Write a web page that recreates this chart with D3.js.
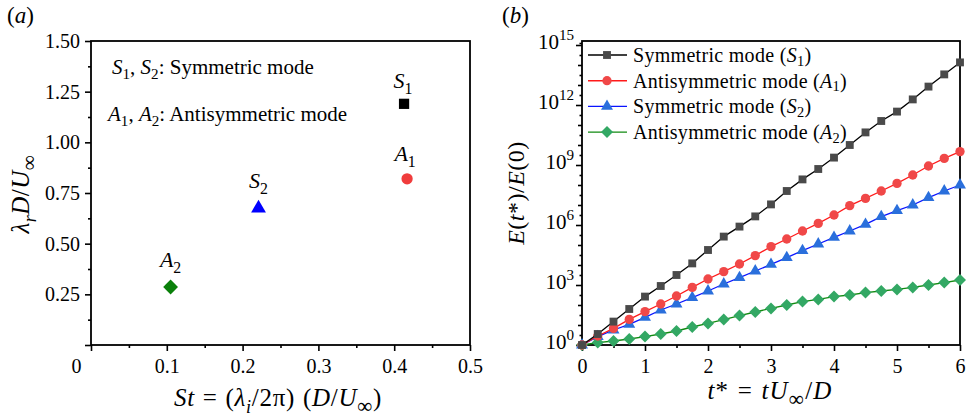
<!DOCTYPE html>
<html>
<head>
<meta charset="utf-8">
<script src="https://cdn.jsdelivr.net/npm/d3@7"></script>
<style>
body { margin: 0; background: #fff; }
svg, svg text, svg tspan { font-family: "Liberation Serif", "DejaVu Serif", serif; }
svg text { fill: #000; }
</style>
</head>
<body>
<svg id="chart" width="969" height="419" font-family="Liberation Serif, serif"></svg>
<script>
// ---- panel (a): growth rate vs Strouhal number
const modeNames = ['S1', 'A1', 'S2', 'A2'];
const stValues = [0.413, 0.417, 0.221, 0.105];
const lambdaR = [1.19, 0.82, 0.68, 0.286];
const aXTicks = [0, 0.1, 0.2, 0.3, 0.4, 0.5];
const aYTicks = [0, 0.25, 0.5, 0.75, 1.0, 1.25, 1.5];

// ---- panel (b): energy growth, values are log10 of E(t*)/E(0)
const tStar = [0, 0.25, 0.5, 0.75, 1, 1.25, 1.5, 1.75, 2, 2.25, 2.5, 2.75, 3,
               3.25, 3.5, 3.75, 4, 4.25, 4.5, 4.75, 5, 5.25, 5.5, 5.75, 6];
const s1Log = [0, 0.55, 1.17, 1.8, 2.42, 2.95, 3.5, 4.08, 4.75, 5.42, 5.92, 6.43, 7.03,
               7.7, 8.28, 8.8, 9.37, 10.0, 10.63, 11.2, 11.67, 12.28, 12.92, 13.53, 14.13];
const a1Log = [0, 0.45, 0.83, 1.28, 1.67, 2.05, 2.45, 2.88, 3.3, 3.67, 4.05, 4.47, 4.92,
               5.3, 5.7, 6.08, 6.5, 6.97, 7.33, 7.7, 8.08, 8.5, 8.95, 9.33, 9.67];
const s2Log = [0, 0.42, 0.75, 1.03, 1.38, 1.75, 2.05, 2.37, 2.7, 3.05, 3.37, 3.7, 4.03,
               4.37, 4.72, 5.05, 5.38, 5.7, 6.03, 6.42, 6.72, 7.0, 7.37, 7.7, 8.0];
const a2Log = [0, 0.12, 0.2, 0.3, 0.42, 0.55, 0.7, 0.9, 1.08, 1.27, 1.47, 1.65, 1.83,
               2.0, 2.17, 2.28, 2.42, 2.5, 2.62, 2.7, 2.78, 2.88, 3.0, 3.12, 3.25];
const bXTicks = [0, 1, 2, 3, 4, 5, 6];
const bYExponents = [0, 3, 6, 9, 12, 15];

const FONT = '"Liberation Serif", "DejaVu Serif", serif';
const svg = d3.select('#chart');

// writes text made of [string, style] parts; style may hold 'i', 'sub', 'sup'
function rich(sel, parts, size, subShift) {
    sel.style('font-family', FONT);
    const subK = subShift === undefined ? 0.26 : subShift;
    let prev = 0;
    parts.forEach(function (p) {
        const st = (p[1] || '').split(' ');
        let shift = 0, fs = size;
        if (st.indexOf('sub') >= 0) { shift = size * subK; fs = size * 0.72; }
        if (st.indexOf('sup') >= 0) { shift = -size * 0.4; fs = size * 0.72; }
        if (st.indexOf('big') >= 0) fs = size * 0.85;
        const t = sel.append('tspan').text(p[0]).attr('font-size', fs + 'px');
        if (st.indexOf('i') >= 0) t.attr('font-style', 'italic');
        if (shift !== prev) t.attr('dy', shift - prev);
        prev = shift;
    });
    return sel;
}

function styleAxis(g) {
    g.attr('font-family', null);
    g.select('.domain').remove();
    g.selectAll('.tick line').attr('stroke', '#000').attr('stroke-width', 1.6);
    g.selectAll('.tick text').attr('font-size', '20px').attr('fill', '#000')
        .style('font-family', FONT);
}

// diamond drawn as a square turned by 45 degrees
const squareDiamond = {
    draw: function (ctx, size) {
        const r = Math.sqrt(size / 2);
        ctx.moveTo(0, -r); ctx.lineTo(r, 0); ctx.lineTo(0, r); ctx.lineTo(-r, 0); ctx.closePath();
    }
};

// ================= panel (a) =================
const xa = d3.scaleLinear().domain([0, 0.5]).range([91, 470]);
const ya = d3.scaleLinear().domain([0, 1.5]).range([345, 41]);

// minor ticks
svg.append('g').attr('transform', 'translate(0,345)')
    .call(d3.axisBottom(xa).tickValues([0.05, 0.15, 0.25, 0.35, 0.45]).tickSize(3).tickFormat(''))
    .call(styleAxis);
svg.append('g').attr('transform', 'translate(91,0)')
    .call(d3.axisLeft(ya).tickValues([0.125, 0.375, 0.625, 0.875, 1.125, 1.375]).tickSize(3).tickFormat(''))
    .call(styleAxis);

const axA = svg.append('g').attr('transform', 'translate(0,345)')
    .call(d3.axisBottom(xa).tickValues(aXTicks).tickSize(6).tickPadding(8)
        .tickFormat(function (d) { return d === 0 ? '0' : d3.format('.1f')(d); }))
    .call(styleAxis);
axA.selectAll('.tick text').filter(function (d) { return d === 0; }).attr('x', -15);

svg.append('g').attr('transform', 'translate(91,0)')
    .call(d3.axisLeft(ya).tickValues(aYTicks).tickSize(6).tickPadding(5)
        .tickFormat(function (d) { return d === 0 ? '' : d3.format('.2f')(d); }))
    .call(styleAxis);

svg.append('rect').attr('x', 91).attr('y', 41).attr('width', 379).attr('height', 304)
    .attr('fill', 'none').attr('stroke', '#000').attr('stroke-width', 1.8);

const aColors = { S1: '#000000', A1: '#f03c3c', S2: '#0000ff', A2: '#0a800a' };
const aSymbols = { S1: d3.symbolSquare, A1: d3.symbolCircle, S2: d3.symbolTriangle, A2: squareDiamond };
const aSizes = { S1: 105, A1: 100, S2: 95, A2: 110 };
const labelOff = { S1: [-1, -16], A1: [-2, -18], S2: [0, -19], A2: [0, -20] };

modeNames.forEach(function (m, i) {
    const cx = xa(stValues[i]), cy = ya(lambdaR[i]);
    svg.append('path')
        .attr('d', d3.symbol().type(aSymbols[m]).size(aSizes[m])())
        .attr('transform', 'translate(' + cx + ',' + (m === 'S2' ? cy + 1 : cy) + ')')
        .attr('fill', aColors[m]);
    const lt = svg.append('text').attr('x', cx + labelOff[m][0]).attr('y', cy + labelOff[m][1])
        .attr('text-anchor', 'middle');
    rich(lt, [[m[0], 'i'], [m[1], 'sub']], 22);
});

rich(svg.append('text').attr('x', 112).attr('y', 74),
    [['S', 'i'], ['1', 'sub'], [', ', ''], ['S', 'i'], ['2', 'sub'], [': Symmetric mode', '']], 21);
rich(svg.append('text').attr('x', 108).attr('y', 121),
    [['A', 'i'], ['1', 'sub'], [', ', ''], ['A', 'i'], ['2', 'sub'], [': Antisymmetric mode', '']], 21);

rich(svg.append('text').attr('x', 278).attr('y', 406).attr('text-anchor', 'middle')
        .attr('letter-spacing', '0.7px').attr('word-spacing', '1px'),
    [['St', 'i'], [' = (', ''], ['λ', 'i'], ['i', 'i sub'], ['/2π) (', ''], ['D', 'i'], ['/', ''],
     ['U', 'i'], ['∞', 'sub big'], [')', '']], 25);
rich(svg.append('text').attr('transform', 'translate(29,194) rotate(-90)').attr('text-anchor', 'middle')
        .attr('letter-spacing', '0.5px'),
    [['λ', 'i'], ['r', 'i sub'], ['D', 'i'], ['/', ''], ['U', 'i'], ['∞', 'sub big']], 25);

rich(svg.append('text').attr('x', 7).attr('y', 23), [['(', ''], ['a', 'i'], [')', '']], 23);

// ================= panel (b) =================
const xb = d3.scaleLinear().domain([0, 6]).range([582, 960]);
const yb = d3.scaleLog().domain([1, Math.pow(10, 15.2)]).range([345, 41]);

svg.append('g').attr('transform', 'translate(0,345)')
    .call(d3.axisBottom(xb).tickValues([0.5, 1.5, 2.5, 3.5, 4.5, 5.5]).tickSize(3).tickFormat(''))
    .call(styleAxis);
svg.append('g').attr('transform', 'translate(0,345)')
    .call(d3.axisBottom(xb).tickValues(bXTicks).tickSize(6).tickPadding(8).tickFormat(d3.format('d')))
    .call(styleAxis);

// decade and half-decade minor ticks on the log axis
const decadeTicks = [1, 2, 4, 5, 7, 8, 10, 11, 13, 14].map(function (e) { return Math.pow(10, e); });
const halfTicks = [0.5, 1.5, 2.5, 3.5, 4.5, 5.5, 6.5, 7.5, 8.5, 9.5, 10.5, 11.5, 12.5, 13.5, 14.5, 15.1]
    .map(function (e) { return Math.pow(10, e); });
svg.append('g').attr('transform', 'translate(582,0)')
    .call(d3.axisLeft(yb).tickValues(halfTicks).tickSize(2.5).tickFormat(''))
    .call(styleAxis);
svg.append('g').attr('transform', 'translate(582,0)')
    .call(d3.axisLeft(yb).tickValues(decadeTicks).tickSize(4).tickFormat(''))
    .call(styleAxis);
const axBy = svg.append('g').attr('transform', 'translate(582,0)')
    .call(d3.axisLeft(yb).tickValues(bYExponents.map(function (e) { return Math.pow(10, e); }))
        .tickSize(6).tickPadding(5).tickFormat(''))
    .call(styleAxis);
axBy.selectAll('.tick').each(function (d, i) {
    const t = d3.select(this).append('text').attr('x', -8).attr('dy', '0.3em')
        .attr('text-anchor', 'end').attr('fill', '#000');
    rich(t, [['10', ''], [String(bYExponents[i]), 'sup']], 21);
});

svg.append('rect').attr('x', 582).attr('y', 41).attr('width', 378).attr('height', 304)
    .attr('fill', 'none').attr('stroke', '#000').attr('stroke-width', 1.8);

const series = [
    { key: 'S1', vals: s1Log, line: '#000000', fill: '#4a4a4a', sym: d3.symbolSquare, size: 62,
      label: [['Symmetric mode (', ''], ['S', 'i'], ['1', 'sub'], [')', '']] },
    { key: 'A1', vals: a1Log, line: '#ff1a1a', fill: '#f04848', sym: d3.symbolCircle, size: 68,
      label: [['Antisymmetric mode (', ''], ['A', 'i'], ['1', 'sub'], [')', '']] },
    { key: 'S2', vals: s2Log, line: '#0a14ff', fill: '#2a6fdc', sym: d3.symbolTriangle, size: 62,
      label: [['Symmetric mode (', ''], ['S', 'i'], ['2', 'sub'], [')', '']] },
    { key: 'A2', vals: a2Log, line: '#118a11', fill: '#33a864', sym: squareDiamond, size: 72,
      label: [['Antisymmetric mode (', ''], ['A', 'i'], ['2', 'sub'], [')', '']] }
];

const plotB = svg.append('g');
const lineGen = d3.line()
    .x(function (d) { return xb(d[0]); })
    .y(function (d) { return yb(Math.pow(10, d[1])); });

series.slice().reverse().forEach(function (s) {
    const pts = tStar.map(function (t, i) { return [t, s.vals[i]]; });
    plotB.append('path').datum(pts).attr('d', lineGen)
        .attr('fill', 'none').attr('stroke', s.line).attr('stroke-width', 1.3);
    plotB.selectAll('.m' + s.key).data(pts).enter().append('path')
        .attr('d', d3.symbol().type(s.sym).size(s.size)())
        .attr('transform', function (d) { return 'translate(' + xb(d[0]) + ',' + yb(Math.pow(10, d[1])) + ')'; })
        .attr('fill', s.fill);
});

// legend
series.forEach(function (s, i) {
    const ly = 55 + i * 25.7;
    svg.append('line').attr('x1', 588).attr('x2', 627).attr('y1', ly).attr('y2', ly)
        .attr('stroke', s.line).attr('stroke-width', 1.4);
    svg.append('path').attr('d', d3.symbol().type(s.sym).size(s.size)())
        .attr('transform', 'translate(607,' + ly + ')').attr('fill', s.fill);
    rich(svg.append('text').attr('x', 633).attr('y', ly + 7).attr('letter-spacing', '0.3px'),
        s.label, 20, 0.18);
});

rich(svg.append('text').attr('x', 770).attr('y', 399).attr('text-anchor', 'middle')
        .attr('letter-spacing', '1.2px').attr('word-spacing', '1px'),
    [['t', 'i'], ['* = ', ''], ['tU', 'i'], ['∞', 'sub big'], ['/', ''], ['D', 'i']], 25);
rich(svg.append('text').attr('transform', 'translate(524,193) rotate(-90)').attr('text-anchor', 'middle')
        .attr('letter-spacing', '0.5px'),
    [['E', 'i'], ['(', ''], ['t', 'i'], ['*)/', ''], ['E', 'i'], ['(0)', '']], 24);

rich(svg.append('text').attr('x', 502).attr('y', 23), [['(', ''], ['b', 'i'], [')', '']], 23);
</script>
</body>
</html>
